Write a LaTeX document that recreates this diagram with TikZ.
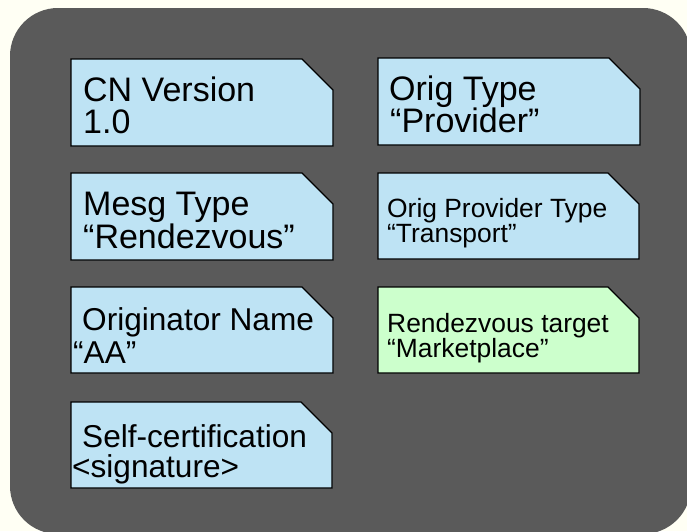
\documentclass[tikz,border=0pt]{standalone}
\usepackage{fontspec}
\setmainfont{Liberation Sans}
\definecolor{bgcream}{HTML}{FFFFF4}
\definecolor{panelgray}{HTML}{5A5A5A}
\definecolor{boxblue}{HTML}{BEE3F4}
\definecolor{boxgreen}{HTML}{CCFFCC}
\tikzset{
  panel/.style={fill=panelgray, rounded corners=48pt},
  notebox/.style={draw=black, line width=1.4pt, line join=miter},
  hugetxt/.style={anchor=base west, inner sep=0pt, font=\fontsize{34}{35}\selectfont},
  bigtxt/.style={anchor=base west, inner sep=0pt, font=\fontsize{31.6}{33}\selectfont},
  smalltxt/.style={anchor=base west, inner sep=0pt, font=\fontsize{26.4}{27}\selectfont},
}
% folded-corner box: #1 left, #2 top, #3 right, #4 bottom, #5 fill
\newcommand{\cutbox}[5]{%
  \path[notebox, fill=#5] (#1,#2) -- (#3-31,#2) -- (#3,#2+31) -- (#3,#4) -- (#1,#4) -- cycle;}
\begin{document}
\begin{tikzpicture}[x=1pt,y=-1pt]
\useasboundingbox (0,0) rectangle (687,531);
\fill[bgcream] (0,0) rectangle (687,531);
\begin{scope}
\clip (0,0) rectangle (687,531);
\path[panel] (10,8) rectangle (691,534);
\end{scope}

% left column
\cutbox{71}{59}{333}{146}{boxblue}
\node[hugetxt] (cn1) at (83,101) {CN Version};
\node[hugetxt] (cn2) at (83,133) {1.0};

\cutbox{71}{173}{333}{260}{boxblue}
\node[hugetxt] (mt1) at (83,215) {Mesg Type};
\node[hugetxt] (mt2) at (83,248) {“Rendezvous”};

\cutbox{71}{287}{333}{373}{boxblue}
\node[bigtxt] (on1) at (82,330) {Originator Name};
\node[bigtxt] (on2) at (73,363) {“AA”};

\cutbox{71}{402}{332}{488}{boxblue}
\node[bigtxt] (sc1) at (82,447) {Self-certification};
\node[bigtxt] (sc2) at (72,477) {<signature>};

% right column
\cutbox{378}{58}{640}{145}{boxblue}
\node[hugetxt] (ot1) at (389,100) {Orig Type};
\node[hugetxt] (ot2) at (390,132) {“Provider”};

\cutbox{378}{173}{639}{259}{boxblue}
\node[smalltxt] (op1) at (387,217) {Orig Provider Type};
\node[smalltxt] (op2) at (387,242) {“Transport”};

\cutbox{378}{287}{639}{373}{boxgreen}
\node[smalltxt] (rt1) at (387,332) {Rendezvous target};
\node[smalltxt] (rt2) at (387,357) {“Marketplace”};
\end{tikzpicture}
\end{document}
